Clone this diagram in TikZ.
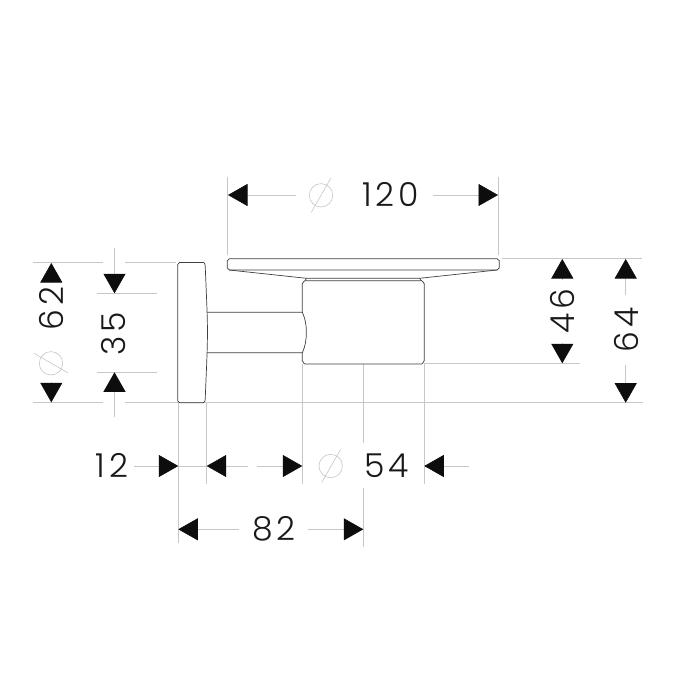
\documentclass[tikz,border=0pt]{standalone}
\usepackage{fontspec}
\setmainfont[LetterSpace=12,UprightFont={* Light}]{Poppins}
\usetikzlibrary{arrows.meta}
\tikzset{
  outline/.style={line width=0.7pt, black!75, line join=round},
  extline/.style={line width=0.6pt, black!22},
  dimtip/.style={extline, -{Triangle[length=19.5pt,width=22pt,color=black!95]}},
  dimtext/.style={font=\fontsize{33}{33}\selectfont, text=black!90, inner sep=0pt},
}
\begin{document}
\begin{tikzpicture}[x=1pt,y=-1pt]
\useasboundingbox (0,0) rectangle (675,675);
\fill[white] (0,0) rectangle (675,675);

% Hilfslinien horizontal
\draw[extline] (33,262.5) -- (103,262.5);
\draw[extline] (125,262.5) -- (176,262.5);
\draw[extline] (33,402.7) -- (103,402.7);
\draw[extline] (125,402.7) -- (643,402.7);
\draw[extline] (97,293.3) -- (157,293.3);
\draw[extline] (97,372.3) -- (157,372.3);
\draw[extline] (502,258.7) -- (642,258.7);
\draw[extline] (424,363.3) -- (580,363.3);

% Hilfslinien vertikal
\draw[extline] (227.5,177) -- (227.5,255);
\draw[extline] (498.5,177) -- (498.5,255);
\draw[extline] (178.3,403) -- (178.3,543);
\draw[extline] (206.7,403) -- (206.7,484);
\draw[extline] (302.3,364) -- (302.3,484);
\draw[extline] (363.3,364) -- (363.3,443);
\draw[extline] (363.3,488) -- (363.3,547);
\draw[extline] (424.3,364) -- (424.3,484);

% Wandrosette
\draw[outline] (179.5,262.5) -- (203.5,262.5) to[out=0,in=-90] (205.3,268)
  .. controls (206.6,300) and (207.6,320) .. (207.4,332)
  .. controls (207.6,345) and (206.6,365) .. (205.3,397)
  to[out=90,in=0] (203.5,402.7) -- (179.5,402.7) to[out=180,in=90] (177.7,400.9)
  -- (177.7,264.3) to[out=-90,in=180] cycle;

% Arm
\draw[outline] (207.2,312.3) -- (302.3,312.3)
  .. controls (305,318) and (306.5,325) .. (306.3,332)
  .. controls (306.5,340) and (305,347) .. (302.3,352.7) -- (207.2,352.7);

% Halter
\draw[outline] (302.3,312.3) -- (302.3,283.5) to[out=-90,in=180] (305,280.7)
  -- (421.5,280.7) to[out=0,in=-90] (424.3,283.5)
  -- (424.3,361) to[out=90,in=0] (421.5,364) -- (305,364)
  to[out=180,in=90] (302.3,361) -- (302.3,352.7);

% Schale
\draw[outline] (229.5,258.7) -- (497,258.7) to[out=0,in=-90] (499.3,260.7)
  -- (499.3,268) to[out=90,in=0] (497,270) -- (229.5,270)
  to[out=180,in=90] (227.3,268) -- (227.3,260.7) to[out=-90,in=180] cycle;
\draw[outline] (229,270) -- (306.5,278.3) -- (419.5,278.3) -- (497,270);
\draw[outline] (306.5,278.3) -- (305,280.7);
\draw[outline] (419.5,278.3) -- (421.5,280.7);

% Masz 120
\draw[dimtip] (296,195) -- (228,195);
\draw[dimtip] (433,195) -- (498,195);
\node[dimtext] (maszA) at (390.5,195) {120};
\draw[extline] (321,195.3) circle (11.7);
\draw[extline] (311.3,212.3) -- (330.7,178.3);

% Masz 62
\draw[dimtip] (51.3,283) -- (51.3,263);
\draw[dimtip] (51.3,382) -- (51.3,402.3);
\node[dimtext, rotate=90] (maszB) at (51,308.5) {62};
\draw[extline] (51,363.3) circle (11.7);
\draw[extline] (34,353.3) -- (67.7,372.7);

% Masz 35
\draw[dimtip] (114.5,248) -- (114.5,293.3);
\draw[dimtip] (114.5,417) -- (114.5,372.3);
\node[dimtext, rotate=90] (maszC) at (114,334) {35};

% Masz 46
\draw[dimtip] (562.3,280) -- (562.3,259);
\draw[dimtip] (562.3,343) -- (562.3,363.3);
\node[dimtext, rotate=90] (maszD) at (562,311) {46};

% Masz 64
\draw[dimtip] (625.7,295) -- (625.7,259);
\draw[dimtip] (625.7,365) -- (625.7,402.7);
\node[dimtext, rotate=90] (maszE) at (626,330) {64};

% Masz 12 und 54
\node[dimtext] (maszF) at (112,465.5) {12};
\draw[dimtip] (134.3,466) -- (178.3,466);
\draw[extline] (178.3,466) -- (206.7,466);
\draw[dimtip] (247.7,466) -- (206.7,466);
\draw[dimtip] (257.3,466) -- (302.3,466);
\draw[extline] (330.7,466) circle (11.7);
\draw[extline] (321.7,482.3) -- (340.7,449.3);
\node[dimtext] (maszG) at (386.5,465.5) {54};
\draw[dimtip] (469.3,466) -- (424.3,466);

% Masz 82
\draw[dimtip] (239,529.3) -- (178.3,529.3);
\node[dimtext] (maszH) at (274,529.3) {82};
\draw[dimtip] (307.7,529.3) -- (363.3,529.3);
\end{tikzpicture}
\end{document}
